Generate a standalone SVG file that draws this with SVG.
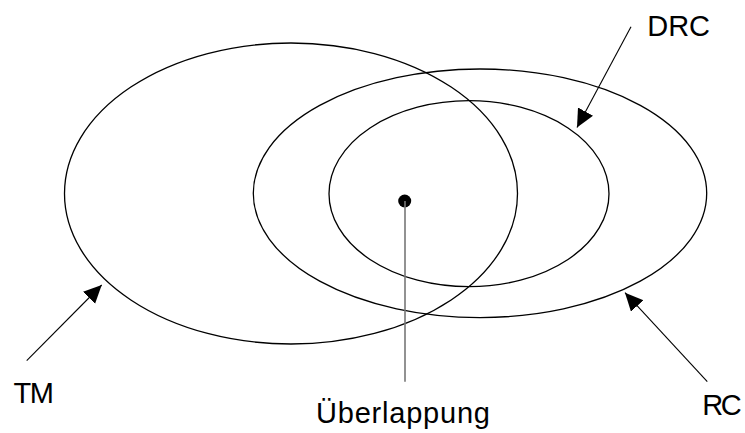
<svg xmlns="http://www.w3.org/2000/svg" width="745" height="433" viewBox="0 0 745 433">
<style>
.ell{fill:none;stroke:#000;stroke-width:1.3}
.arr{stroke:#000;stroke-width:1.1;fill:none;marker-end:url(#ah)}
.lbl{font-family:"Liberation Sans",Arial,sans-serif;font-size:29px;fill:#000}
</style>
<defs>
<marker id="ah" markerUnits="userSpaceOnUse" markerWidth="19" markerHeight="18" refX="18" refY="8.5" orient="auto">
<path d="M0,0 L18,8.5 L0,17 z" fill="#000"/>
</marker>
</defs>
<rect width="745" height="433" fill="#fff"/>
<g id="TM"><ellipse class="ell" cx="291" cy="193.5" rx="226.5" ry="150.5"/><text class="lbl" x="13.5" y="403" textLength="40.5">TM</text></g>
<g id="RC"><ellipse class="ell" cx="480" cy="193.3" rx="226.7" ry="124.3"/><text class="lbl" x="702.3" y="415" textLength="39.4">RC</text></g>
<g id="DRC"><ellipse class="ell" cx="469" cy="193.7" rx="140" ry="93"/><text class="lbl" x="647.3" y="36" textLength="62.7">DRC</text></g>
<g id="Ueberlappung"><circle cx="404.7" cy="201" r="6.5" fill="#000"/><text class="lbl" x="316" y="422.7" textLength="174">Überlappung</text></g>
<g id="connectors">
<line x1="405" y1="201" x2="405" y2="381.7" stroke="#777" stroke-width="1.6"/>
<line class="arr" x1="631" y1="26.7" x2="577" y2="127.5"/>
<line class="arr" x1="26.7" y1="360.7" x2="101.7" y2="285"/>
<line class="arr" x1="707.3" y1="381.7" x2="625" y2="292.7"/>
</g>
</svg>
